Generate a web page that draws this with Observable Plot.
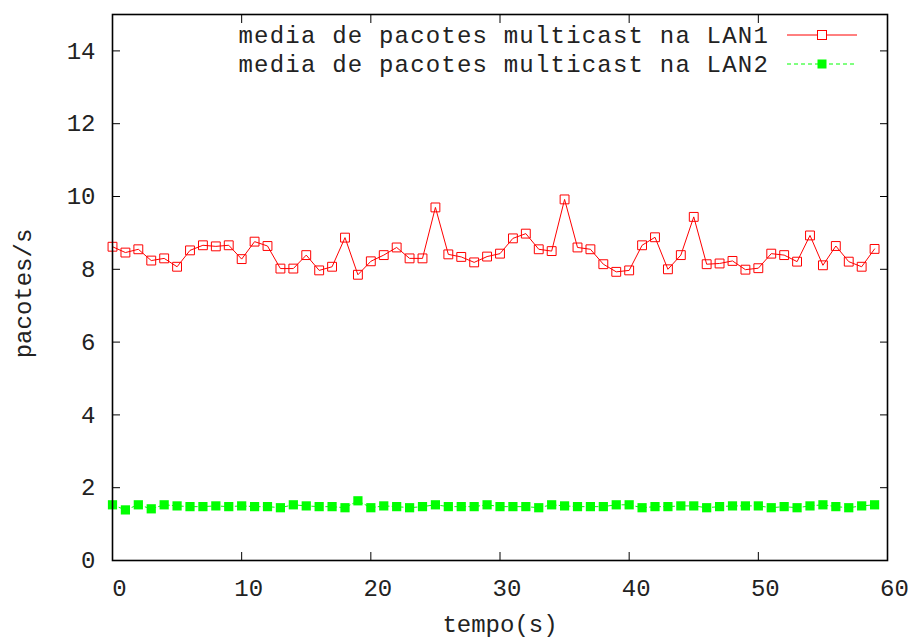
<!DOCTYPE html>
<html>
<head>
<meta charset="utf-8">
<script src="https://cdn.jsdelivr.net/npm/d3@7"></script>
<script src="https://cdn.jsdelivr.net/npm/@observablehq/plot@0.6"></script>
<style>
  html, body { margin: 0; padding: 0; background: #fff; }
  #chart svg { display: block; }
</style>
</head>
<body>
<div id="chart"></div>
<script>
const tempo = [0,1,2,3,4,5,6,7,8,9,10,11,12,13,14,15,16,17,18,19,20,21,22,23,24,25,26,27,28,29,
  30,31,32,33,34,35,36,37,38,39,40,41,42,43,44,45,46,47,48,49,50,51,52,53,54,55,56,57,58,59];
const lan1 = [8.62,8.46,8.55,8.24,8.30,8.07,8.52,8.66,8.63,8.66,
  8.28,8.76,8.64,8.02,8.02,8.39,7.97,8.07,8.87,7.85,
  8.22,8.39,8.60,8.30,8.30,9.70,8.41,8.34,8.19,8.35,
  8.43,8.85,8.98,8.55,8.50,9.92,8.60,8.55,8.14,7.93,
  7.97,8.66,8.88,8.00,8.39,9.44,8.14,8.16,8.23,7.99,
  8.03,8.43,8.39,8.21,8.93,8.11,8.64,8.21,8.07,8.56];
const lan2 = [1.53,1.39,1.53,1.42,1.53,1.50,1.48,1.48,1.50,1.48,
  1.50,1.48,1.48,1.45,1.53,1.50,1.48,1.48,1.45,1.64,
  1.45,1.50,1.48,1.45,1.48,1.53,1.48,1.48,1.48,1.53,
  1.48,1.48,1.48,1.45,1.53,1.50,1.48,1.48,1.48,1.53,
  1.53,1.45,1.48,1.48,1.50,1.50,1.45,1.48,1.50,1.50,
  1.50,1.45,1.48,1.45,1.50,1.53,1.48,1.45,1.50,1.53];
const xTicks = [0,10,20,30,40,50,60];
const yTicks = [0,2,4,6,8,10,12,14];
const seriesNames = ["media de pacotes multicast na LAN1", "media de pacotes multicast na LAN2"];
const xLabel = "tempo(s)";
const yLabel = "pacotes/s";

const d1 = tempo.map((t, i) => ({t, v: lan1[i]}));
const d2 = tempo.map((t, i) => ({t, v: lan2[i]}));

const RED = "#ff0000", GREEN = "#00ff00";

function legend(index, scales, values, dims) {
  const g = d3.create("svg:g");
  const right = dims.width - dims.marginRight;
  const textX = right - 118;
  const s0 = right - 100, s1 = right - 30, sm = (s0 + s1) / 2;
  const rows = [
    {name: seriesNames[0], y: dims.marginTop + 21, color: RED, dash: null, filled: false},
    {name: seriesNames[1], y: dims.marginTop + 50, color: GREEN, dash: "4,3", filled: true}
  ];
  for (const r of rows) {
    g.append("text").attr("x", textX).attr("y", r.y).attr("dy", "0.35em")
      .attr("text-anchor", "end").attr("fill", "#222").attr("font-size", 24)
      .attr("letter-spacing", "1.2px")
      .text(r.name);
    g.append("line").attr("x1", s0).attr("x2", s1).attr("y1", r.y).attr("y2", r.y)
      .attr("stroke", r.color).attr("stroke-width", 1).attr("stroke-dasharray", r.dash);
    g.append("rect").attr("x", sm - 4.5).attr("y", r.y - 4.5).attr("width", 9).attr("height", 9)
      .attr("fill", r.filled ? r.color : "white").attr("stroke", r.filled ? "none" : r.color);
  }
  return g.node();
}

const chart = Plot.plot({
  width: 914,
  height: 644,
  marginLeft: 112,
  marginRight: 27,
  marginTop: 14,
  marginBottom: 84,
  style: {fontFamily: "Liberation Mono", fontSize: "24px", background: "white", color: "#222"},
  x: {domain: [0, 60], ticks: xTicks},
  y: {domain: [0, 15], ticks: yTicks},
  marks: [
    Plot.axisX(xTicks, {anchor: "bottom", tickSize: 0, tickPadding: 18, dx: 7, label: null}),
    Plot.axisY(yTicks, {anchor: "left", tickSize: 0, tickPadding: 17, label: null}),
    Plot.axisX(xTicks, {anchor: "bottom", tickSize: -8, tickFormat: () => "", label: null, stroke: "black"}),
    Plot.axisX(xTicks, {anchor: "top", tickSize: -8, tickFormat: () => "", label: null, stroke: "black"}),
    Plot.axisY(yTicks, {anchor: "left", tickSize: -8, tickFormat: () => "", label: null, stroke: "black"}),
    Plot.axisY(yTicks, {anchor: "right", tickSize: -8, tickFormat: () => "", label: null, stroke: "black"}),
    Plot.line(d1, {x: "t", y: "v", stroke: RED, strokeWidth: 1}),
    Plot.dot(d1, {x: "t", y: "v", symbol: "square", r: 5, stroke: RED, fill: "none", strokeWidth: 1}),
    Plot.line(d2, {x: "t", y: "v", stroke: GREEN, strokeWidth: 1, strokeDasharray: "4,3"}),
    Plot.dot(d2, {x: "t", y: "v", symbol: "square", r: 5.2, fill: GREEN, stroke: "none"}),
    Plot.frame({stroke: "black", strokeWidth: 1.6}),
    Plot.text([xLabel], {frameAnchor: "bottom", dy: 71, fill: "#222"}),
    Plot.text([yLabel], {frameAnchor: "left", dx: -89, dy: 6, rotate: -90, textAnchor: "middle", fill: "#222"}),
    legend
  ]
});
document.getElementById("chart").appendChild(chart);
</script>
</body>
</html>
